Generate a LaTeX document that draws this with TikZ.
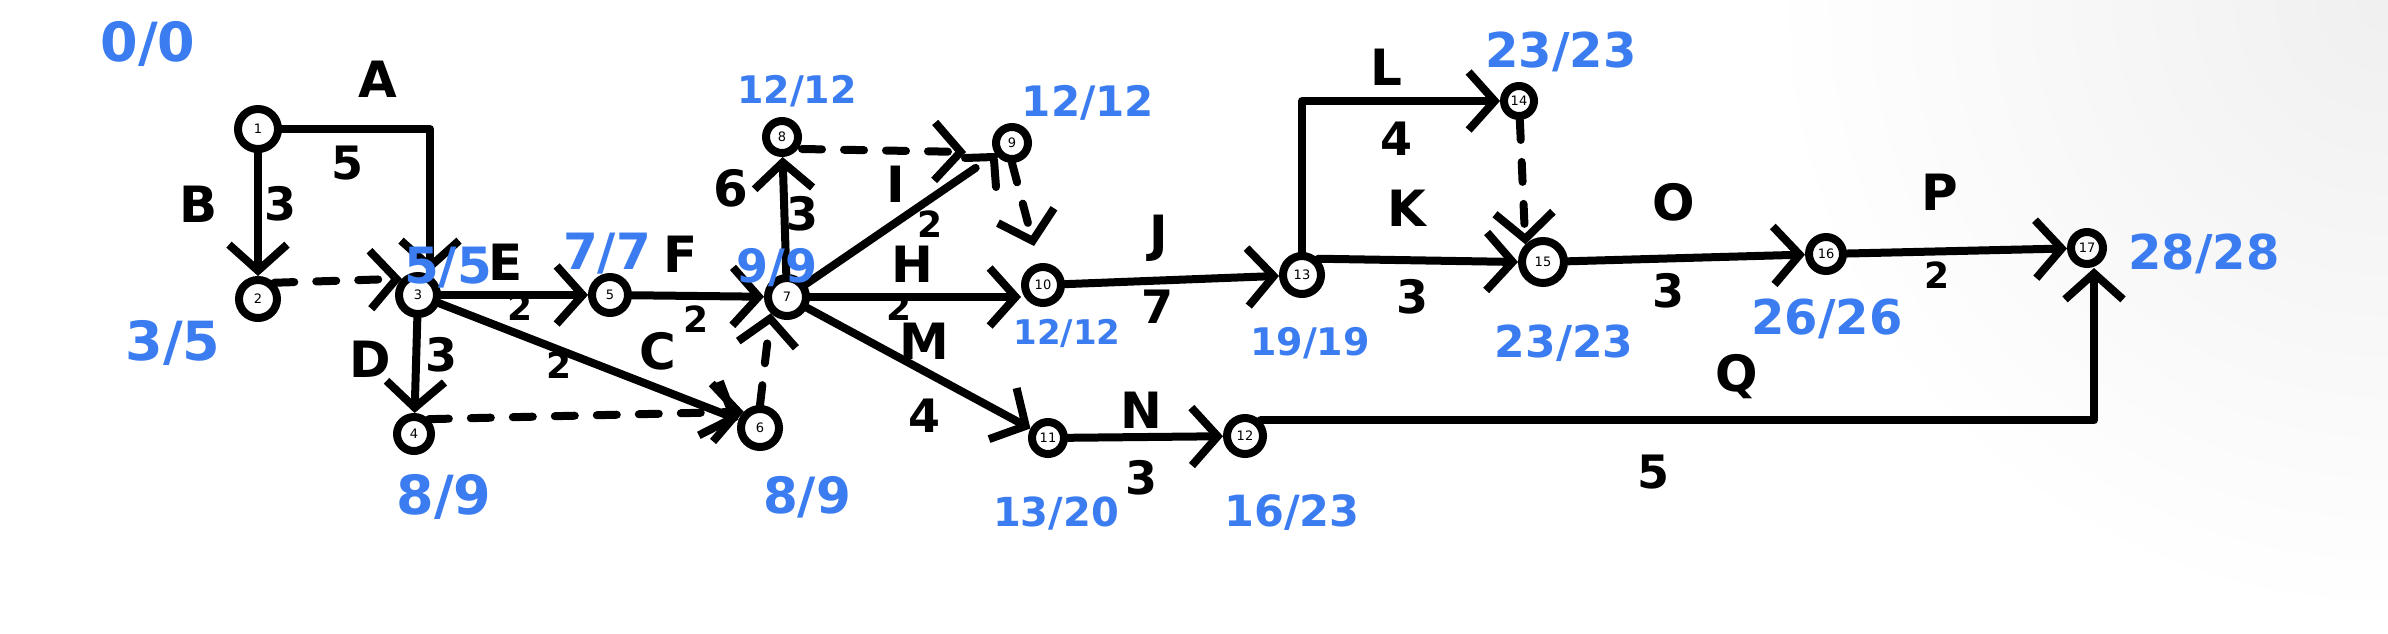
\documentclass[tikz,border=0pt]{standalone}
\usepackage{fontspec}
\setmainfont{DejaVu Sans}
\usetikzlibrary{arrows.meta}
\definecolor{penblue}{RGB}{59,125,240}
\tikzset{
  ev/.style={circle,draw,line width=8pt,inner sep=0pt,minimum size=#1,font=\fontsize{13}{13}\selectfont},
  ev/.default=36pt,
  edge/.style={line width=8pt,line cap=round,line join=round,-{Straight Barb[length=26pt,width=58pt,line width=8pt]}},
  plain/.style={line width=8pt,line cap=round,line join=round},
  dline/.style={edge,dash pattern=on 20pt off 22pt},
  act/.style={font=\fontsize{50}{50}\selectfont\bfseries},
  dur/.style={font=\fontsize{46}{46}\selectfont\bfseries},
  small/.style={font=\fontsize{36}{36}\selectfont\bfseries},
  times/.style={text=penblue,inner sep=0pt,font=\fontsize{#1}{#1}\selectfont\bfseries},
  times/.default=46,
}
\begin{document}
\begin{tikzpicture}[x=1pt,y=-1pt]
\useasboundingbox (0,0) rectangle (2388,633);
\fill[white] (0,0) rectangle (2388,633);
\shade[inner color=black!6,outer color=white] (2388,0) circle (620);
% events
\node[ev=40pt] (n1) at (258,129) {1};
\node[ev=38pt] (n2) at (258,299) {2};
\node[ev=38pt] (n3) at (418,295) {3};
\node[ev=34pt] (n4) at (414,434) {4};
\node[ev=36pt] (n5) at (610,295) {5};
\node[ev=38pt] (n6) at (760,428) {6};
\node[ev=38pt] (n7) at (787,297) {7};
\node[ev=32pt] (n8) at (782,137) {8};
\node[ev=32pt] (n9) at (1012,143) {9};
\node[ev=36pt] (n10) at (1043,285) {10};
\node[ev=32pt] (n11) at (1048,438) {11};
\node[ev=36pt] (n12) at (1245,436) {12};
\node[ev=38pt] (n13) at (1302,275) {13};
\node[ev=30pt] (n14) at (1519,101) {14};
\node[ev=42pt] (n15) at (1543,262) {15};
\node[ev=34pt] (n16) at (1826,254) {16};
\node[ev=32pt] (n17) at (2087,248) {17};
% activities
\draw[edge] (n1.east) -| ([xshift=12pt]n3.north);
\draw[edge] (n1) -- (n2);
\draw[dline] (n2.north east) -- (n3.north west);
\draw[edge] (n3) -- (n5);
\draw[edge] (n5) -- (n7);
\draw[edge] (n3) -- (n6);
\draw[edge] (n3) -- (n4);
\draw[dline] (n4.north east) -- (n6.north west);
\draw[dline] (n6.north) -- (n7.south west);
\draw[edge] (n7) -- (n8);
\draw[dline] ([yshift=-12pt]n8.east) -- ([xshift=-26pt,yshift=-9pt]n9.west);
\draw[plain,shorten >=24pt] (n7) -- (n9);
\draw[plain] (965,158) -- (994,157) (994,160) -- (996,187);
\draw[dline] (n9.south) -- ([xshift=-9pt,yshift=17pt]n10.north);
\draw[edge] (n7) -- (n7 -| n10.west);
\draw[edge] (n10) -- (n13);
\draw[edge] (n7) -- (n11);
\draw[edge] (n11) -- (n12);
\draw[edge] (n12.north east) -| ([xshift=7pt]n17.south);
\draw[edge] (n13.north east) -- (n15.west);
\draw[edge] (n13.north) |- (n14.west);
\draw[dline] (n14) -- (n15.north west);
\draw[edge] (n15) -- (n16);
\draw[edge] (n16) -- (n17);
% activity labels
\node[act] (lA) at (378,79) {A};   \node[dur] (dA) at (347,163) {5};
\node[act] (lB) at (199,204) {B};  \node[dur] (dB) at (280,204) {3};
\node[act] (lE) at (506,262) {E};  \node[small] (dE) at (520,307) {2};
\node[act] (lF) at (681,254) {F};  \node[small] (dF) at (696,319) {2};
\node[act] (lC) at (658,351) {C};  \node[small] (dC) at (559,365) {2};
\node[act] (lD) at (370,359) {D};  \node[dur] (dD) at (441,355) {3};
\node[act] (lG) at (731,188) {6};  \node[dur] (dG) at (802,214) {3};
\node[act] (lI) at (896,184) {I};  \node[small] (dI) at (930,224) {2};
\node[act] (lH) at (912,264) {H};  \node[small] (dH) at (899,307) {2};
\node[act] (lJ) at (1159,238) {J}; \node[dur] (dJ) at (1157,307) {7};
\node[act] (lM) at (924,341) {M};  \node[dur] (dM) at (924,416) {4};
\node[act] (lN) at (1141,410) {N}; \node[dur] (dN) at (1141,478) {3};
\node[act] (lL) at (1386,67) {L};  \node[dur] (dL) at (1396,139) {4};
\node[act] (lK) at (1407,208) {K}; \node[dur] (dK) at (1412,297) {3};
\node[act] (lO) at (1674,202) {O}; \node[dur] (dO) at (1668,291) {3};
\node[act] (lP) at (1940,192) {P}; \node[small] (dP) at (1937,275) {2};
\node[act] (lQ) at (1737,377) {Q}; \node[dur] (dQ) at (1653,472) {5};
% event times
\node[times=54] (t1) at (148,44) {0/0};
\node[times=54] (t2) at (173,343) {3/5};
\node[times=50] (t3) at (448,268) {5/5};
\node[times=50] (t5) at (607,254) {7/7};
\node[times=54] (t4) at (444,497) {8/9};
\node[times=46] (t7) at (777,268) {9/9};
\node[times=50] (t6) at (807,497) {8/9};
\node[times=38] (t8) at (797,91) {12/12};
\node[times=42] (t9) at (1088,103) {12/12};
\node[times=34] (t10) at (1067,333) {12/12};
\node[times=38] (t13) at (1310,343) {19/19};
\node[times=40] (t11) at (1056,514) {13/20};
\node[times=43] (t12) at (1292,513) {16/23};
\node[times=48] (t14) at (1561,52) {23/23};
\node[times=44] (t15) at (1564,343) {23/23};
\node[times=48] (t16) at (1827,319) {26/26};
\node[times=48] (t17) at (2204,254) {28/28};
\end{tikzpicture}
\end{document}
